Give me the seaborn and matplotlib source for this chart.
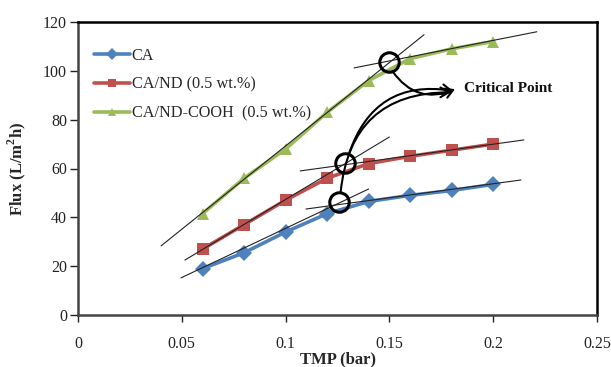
import matplotlib
matplotlib.use("Agg")
import matplotlib.pyplot as plt
import seaborn as sns
import pandas as pd

# ---- data ----
tmp = [0.06, 0.08, 0.10, 0.12, 0.14, 0.16, 0.18, 0.20]
flux_ca = [19, 25.5, 34, 41.5, 46.5, 49, 51, 53.5]
flux_nd = [27, 37, 47, 56, 62, 65, 67.5, 70]
flux_cooh = [41.5, 56, 68, 83, 96, 105, 109, 112]
series_names = ["CA", "CA/ND (0.5 wt.%)", "CA/ND-COOH  (0.5 wt.%)"]

# tangent lines: (x0, y0, x1, y1)
tangents = [
    (0.0496, 15.2, 0.140, 51.6),
    (0.1098, 43.4, 0.2134, 55.3),
    (0.0515, 22.5, 0.150, 72.9),
    (0.107, 59.0, 0.2148, 71.7),
    (0.040, 28.3, 0.1667, 114.8),
    (0.133, 101.2, 0.221, 116.0),
]
# critical points (circled)
crit_x = [0.1257, 0.1286, 0.150]
crit_y = [46.3, 62.3, 103.7]
xticks = [0, 0.05, 0.1, 0.15, 0.2, 0.25]
xticklabels = ["0", "0.05", "0.1", "0.15", "0.2", "0.25"]
yticks = [0, 20, 40, 60, 80, 100, 120]

sns.set_style("white")
plt.rcParams['font.family'] = ['Liberation Serif', 'DejaVu Serif']
plt.rcParams['mathtext.fontset'] = 'custom'
plt.rcParams['mathtext.rm'] = 'Liberation Serif'
plt.rcParams['mathtext.bf'] = 'Liberation Serif:bold'

df = pd.DataFrame({
    "TMP": tmp * 3,
    "Flux": flux_ca + flux_nd + flux_cooh,
    "Membrane": [series_names[0]] * len(tmp) + [series_names[1]] * len(tmp) + [series_names[2]] * len(tmp),
})

fig = plt.figure(figsize=(6.11, 3.67), dpi=100)
ax = fig.add_axes([78 / 611, 1 - 315 / 367, (597 - 78) / 611, (315 - 22) / 367])

palette = {series_names[0]: "#4F81BD", series_names[1]: "#C0504D", series_names[2]: "#9BBB59"}
markers = {series_names[0]: "D", series_names[1]: "s", series_names[2]: "^"}
sns.lineplot(data=df, x="TMP", y="Flux", hue="Membrane", style="Membrane",
             palette=palette, markers=markers, dashes=False, linewidth=2.6,
             markersize=8, markeredgewidth=0, ax=ax)

for (x0, y0, x1, y1) in tangents:
    ax.plot([x0, x1], [y0, y1], color="#222222", linewidth=0.8, zorder=5)

ax.plot(crit_x, crit_y, linestyle="none", marker="o", markersize=14,
        markerfacecolor="none", markeredgecolor="black", markeredgewidth=2.2, zorder=6)

tip = (0.1816, 92.5)
ax.annotate("", xy=tip, xytext=(0.1515, 99.8),
            arrowprops=dict(arrowstyle="->,head_length=0.6,head_width=0.35", color="black",
                            lw=1.5, connectionstyle="arc3,rad=0.4", shrinkA=0, shrinkB=0), zorder=6)
ax.annotate("", xy=(0.1806, 91.8), xytext=(0.1305, 66.0),
            arrowprops=dict(arrowstyle="->,head_length=0.6,head_width=0.35", color="black",
                            lw=1.5, connectionstyle="arc3,rad=-0.42", shrinkA=0, shrinkB=0), zorder=6)
ax.annotate("", xy=(0.1796, 91.2), xytext=(0.1265, 50.3),
            arrowprops=dict(arrowstyle="->,head_length=0.6,head_width=0.35", color="black",
                            lw=1.5, connectionstyle="arc3,rad=-0.45", shrinkA=0, shrinkB=0), zorder=6)
ax.text(0.1860, 92.6, "Critical Point", fontsize=11, fontweight="bold",
        va="center", ha="left", color="#111111")

ax.set_xlim(0, 0.25)
ax.set_ylim(0, 120)
ax.set_xticks(xticks)
ax.set_xticklabels(xticklabels)
ax.set_yticks(yticks)
ax.tick_params(axis="x", direction="out", length=5, width=1, pad=10, labelsize=11.5, colors="#222222")
ax.tick_params(axis="y", direction="out", length=6, width=1, pad=2, labelsize=11.5, colors="#222222")
ax.tick_params(bottom=True, left=True)
for s in ax.spines.values():
    s.set_visible(True)
    s.set_color("black")
    s.set_linewidth(1.8)
ax.spines["left"].set_color("#444444")
ax.spines["bottom"].set_color("#444444")

ax.set_xlabel("TMP (bar)", fontsize=12, fontweight="bold", labelpad=0)
ax.set_ylabel(r"Flux (L/m$^{\mathbf{2}}$h)", fontsize=12, fontweight="bold", labelpad=11)

ax.legend(loc="upper left", frameon=False, fontsize=11.7, handlelength=2.2, handletextpad=0.1,
          bbox_to_anchor=(0.003, 0.962), labelspacing=0.8, markerscale=0.75)

fig.savefig("out.png", dpi=100)
